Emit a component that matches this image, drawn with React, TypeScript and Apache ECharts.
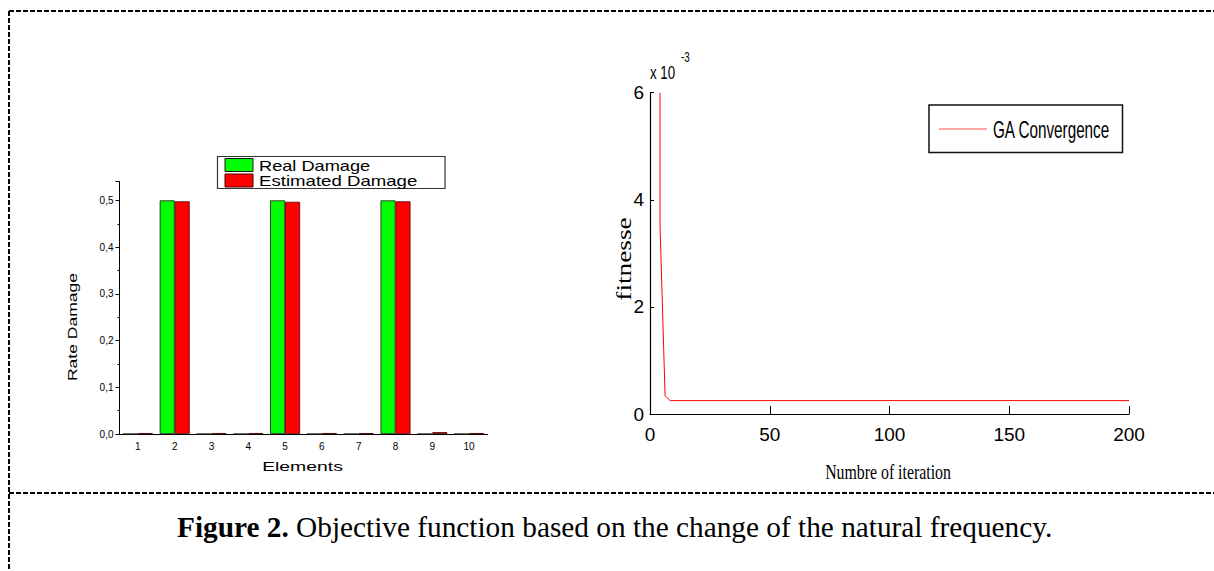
import { useEffect, useRef } from 'react';
import * as echarts from 'echarts';

// Left panel: damage identification per element
const elements = ['1', '2', '3', '4', '5', '6', '7', '8', '9', '10'];
const realDamage = [0, 0.5, 0, 0, 0.5, 0, 0, 0.5, 0, 0];
const estimatedDamage = [0.002, 0.498, 0.002, 0.002, 0.497, 0.002, 0.002, 0.498, 0.004, 0.002];

// Right panel: GA convergence (fitness in units of 10^-3)
const iterations = [4.2, 4.2, 6.3, 8.4, 200];
const fitness = [6.0, 3.5, 0.34, 0.25, 0.25];

const leftLegend = ['Real Damage', 'Estimated Damage'];
const rightLegend = 'GA Convergence';

export default function App() {
  const ref = useRef<HTMLDivElement>(null);
  useEffect(() => {
    if (!ref.current) return;
    const chart = echarts.init(ref.current, undefined, { renderer: 'svg' });
    const sans = 'Liberation Sans, Arial, sans-serif';
    const narrow = 'Liberation Sans Narrow, Arial Narrow, Liberation Sans, sans-serif';
    const serif = 'Liberation Serif, Times New Roman, serif';
    const dash = { stroke: '#000', lineWidth: 2, lineDash: [5, 2] };
    const option: any = {
      animation: false,
      backgroundColor: '#fff',
      grid: [
        { left: 119.5, top: 181.7, width: 368, height: 252.3 },
        { left: 650, top: 92.7, width: 479, height: 321.3 },
      ],
      xAxis: [
        {
          gridIndex: 0, type: 'category', data: elements, position: 'bottom',
          axisLine: { lineStyle: { color: '#000', width: 1 } },
          axisTick: { alignWithLabel: true, length: 4, lineStyle: { color: '#000' } },
          axisLabel: { color: '#000', fontSize: 10, fontFamily: sans, margin: 7 },
        },
        {
          gridIndex: 0, type: 'category', data: elements, position: 'bottom', offset: 0,
          axisLine: { show: false },
          axisTick: { inside: true, length: 3, lineStyle: { color: '#000' } },
          axisLabel: { show: false },
        },
        {
          gridIndex: 1, type: 'value', min: 0, max: 200, interval: 50,
          axisLine: { onZero: false, lineStyle: { color: '#000', width: 1.2 } },
          axisTick: { show: true, inside: true, length: 8, lineStyle: { color: '#000' } },
          axisLabel: { color: '#000', fontSize: 19, fontFamily: narrow, margin: 11 },
          splitLine: { show: false },
        },
      ],
      yAxis: [
        {
          gridIndex: 0, type: 'value', min: 0, max: 0.54, interval: 0.1,
          axisLine: { show: true, lineStyle: { color: '#000', width: 1 } },
          axisTick: { show: true, length: 4, lineStyle: { color: '#000' } },
          minorTick: { show: true, splitNumber: 2, length: 2, lineStyle: { color: '#000' } },
          splitLine: { show: false },
          axisLabel: {
            color: '#000', fontSize: 10, fontFamily: sans, margin: 6, showMaxLabel: false,
            formatter: (v: number) => v.toFixed(1).replace('.', ','),
          },
        },
        {
          gridIndex: 1, type: 'value', min: 0, max: 6, interval: 2,
          axisLine: { show: true, onZero: false, lineStyle: { color: '#000', width: 1.2 } },
          axisTick: { show: true, inside: true, length: 4, lineStyle: { color: '#000' } },
          splitLine: { show: false },
          axisLabel: { color: '#000', fontSize: 19, fontFamily: narrow, margin: 6 },
        },
      ],
      series: [
        {
          name: leftLegend[0], type: 'bar', xAxisIndex: 0, yAxisIndex: 0,
          data: realDamage, barWidth: 15, barGap: '0%',
          itemStyle: { color: '#00ff00', borderColor: '#1a1a1a', borderWidth: 0.8 },
        },
        {
          name: leftLegend[1], type: 'bar', xAxisIndex: 0, yAxisIndex: 0,
          data: estimatedDamage, barWidth: 15, barGap: '0%',
          itemStyle: { color: '#ff0000', borderColor: '#500000', borderWidth: 0.8 },
        },
        {
          name: rightLegend, type: 'line', xAxisIndex: 2, yAxisIndex: 1,
          data: iterations.map((x, i) => [x, fitness[i]]),
          showSymbol: false, symbol: 'none',
          lineStyle: { color: '#ff0000', width: 1 },
        },
      ],
      graphic: [
        // dashed frame
        { type: 'line', shape: { x1: 9, y1: 11, x2: 1214, y2: 11 }, style: dash },
        { type: 'line', shape: { x1: 9, y1: 11, x2: 9, y2: 571 }, style: dash },
        { type: 'line', shape: { x1: 9, y1: 493, x2: 1214, y2: 493 }, style: dash },
        // left legend
        { type: 'rect', shape: { x: 217.5, y: 156.5, width: 227.5, height: 32 }, style: { fill: '#fff', stroke: '#333', lineWidth: 1.2 } },
        { type: 'rect', shape: { x: 225, y: 158.5, width: 28, height: 13 }, style: { fill: '#00ff00', stroke: '#1a1a1a', lineWidth: 1 } },
        { type: 'rect', shape: { x: 225, y: 174, width: 28, height: 13 }, style: { fill: '#ff0000', stroke: '#500000', lineWidth: 1 } },
        { type: 'text', x: 259, y: 165.5, scaleX: 1.3, style: { text: leftLegend[0], font: '14px ' + sans, fill: '#000', align: 'left', verticalAlign: 'middle', textAlign: 'left', textVerticalAlign: 'middle' } },
        { type: 'text', x: 259, y: 181, scaleX: 1.33, style: { text: leftLegend[1], font: '14px ' + sans, fill: '#000', align: 'left', verticalAlign: 'middle', textAlign: 'left', textVerticalAlign: 'middle' } },
        // left axis names
        { type: 'text', x: 72.5, y: 327, rotation: Math.PI / 2, scaleX: 1.3, style: { text: 'Rate Damage', font: '13.5px ' + sans, fill: '#000', align: 'center', verticalAlign: 'middle', textAlign: 'center', textVerticalAlign: 'middle' } },
        { type: 'text', x: 302.5, y: 466, scaleX: 1.55, style: { text: 'Elements', font: '12.5px ' + sans, fill: '#000', align: 'center', verticalAlign: 'middle', textAlign: 'center', textVerticalAlign: 'middle' } },
        // right exponent
        { type: 'text', x: 650, y: 72, scaleX: 0.7, style: { text: 'x 10', font: '19px ' + sans, fill: '#000', align: 'left', verticalAlign: 'middle', textAlign: 'left', textVerticalAlign: 'middle' } },
        { type: 'text', x: 681, y: 57, scaleX: 0.7, style: { text: '-3', font: '14px ' + sans, fill: '#000', align: 'left', verticalAlign: 'middle', textAlign: 'left', textVerticalAlign: 'middle' } },
        // right axis names
        { type: 'text', x: 624, y: 259, rotation: Math.PI / 2, scaleX: 1.3, style: { text: 'fitnesse', font: '21px ' + serif, fill: '#000', align: 'center', verticalAlign: 'middle', textAlign: 'center', textVerticalAlign: 'middle' } },
        { type: 'text', x: 888, y: 472, scaleX: 0.72, style: { text: 'Numbre of iteration', font: '22px ' + serif, fill: '#000', align: 'center', verticalAlign: 'middle', textAlign: 'center', textVerticalAlign: 'middle' } },
        // right legend
        { type: 'rect', shape: { x: 929, y: 105, width: 193.5, height: 47.5 }, style: { fill: '#fff', stroke: '#111', lineWidth: 1.5 } },
        { type: 'line', shape: { x1: 939, y1: 129, x2: 987, y2: 129 }, style: { stroke: '#ff5050', lineWidth: 1 } },
        { type: 'text', x: 993, y: 130, scaleX: 0.636, style: { text: rightLegend, font: '24px ' + sans, fill: '#000', align: 'left', verticalAlign: 'middle', textAlign: 'left', textVerticalAlign: 'middle' } },
        // caption
        {
          type: 'text', x: 177, y: 527,
          style: {
            text: '{b|Figure 2.} Objective function based on the change of the natural frequency.',
            fontFamily: serif, fontSize: 29.3, fill: '#000',
            rich: { b: { fontFamily: serif, fontSize: 29.3, fontWeight: 'bold', fill: '#000' } },
            align: 'left', verticalAlign: 'middle', textAlign: 'left', textVerticalAlign: 'middle',
          },
        },
      ],
    };
    chart.setOption(option);
    return () => chart.dispose();
  }, []);
  return <div ref={ref} style={{ position: 'absolute', left: 0, top: 0, width: 1214, height: 571 }} />;
}
